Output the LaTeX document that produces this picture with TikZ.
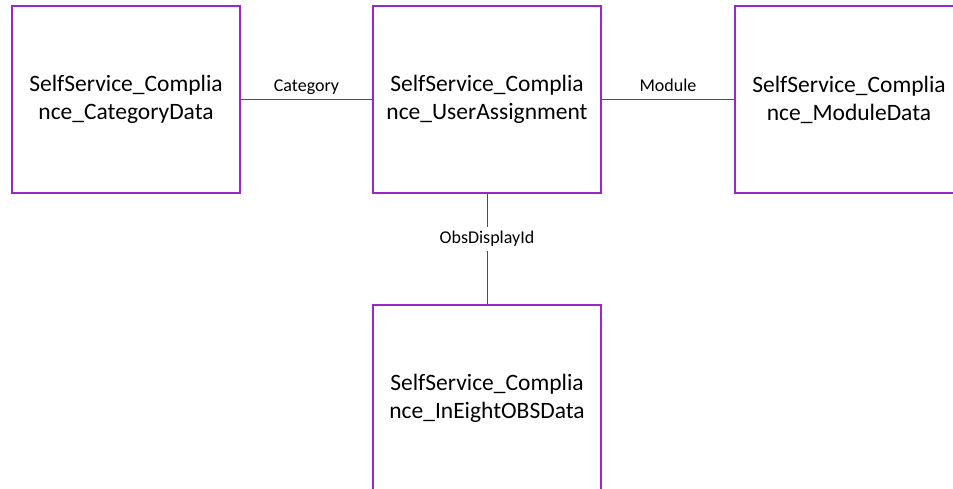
\documentclass[tikz,border=0pt]{standalone}
\usepackage{fontspec}
\setmainfont{Carlito}
\definecolor{boxpurple}{RGB}{153,40,200}
\definecolor{linkgray}{RGB}{80,80,80}
\begin{document}
\begin{tikzpicture}[x=1pt,y=-1pt,
  entity/.style={draw=boxpurple, line width=1.6pt, fill=white, rectangle,
    minimum width=228pt, minimum height=187pt, inner sep=0pt, align=center,
    font=\fontsize{23.5}{28}\selectfont},
  link/.style={draw=linkgray, line width=0.9pt},
  lbl/.style={font=\fontsize{18}{21}\selectfont, inner sep=1pt},
  hlbl/.style={lbl, anchor=base, yshift=8.5pt}]
\useasboundingbox (0,0) rectangle (953,488);
\clip (0,0) rectangle (953,488);
\node[entity] (cat) at (126,99.5) {SelfService\_Complia\\nce\_CategoryData};
\node[entity] (ua) at (487,99.5) {SelfService\_Complia\\nce\_UserAssignment};
\node[entity] (mod) at (849,99.5) {SelfService\_Complia\\nce\_ModuleData};
\node[entity] (obs) at (487,398.5) {SelfService\_Complia\\nce\_InEightOBSData};
\draw[link] (cat.east) -- node[hlbl] (lcat) {Category} (ua.west);
\draw[link] (ua.east) -- node[hlbl] (lmod) {Module} (mod.west);
\draw[link] (ua.south) -- node[lbl, pos=0.41, fill=white, inner sep=4pt] (lobs) {ObsDisplayId} (obs.north);
\end{tikzpicture}
\end{document}
